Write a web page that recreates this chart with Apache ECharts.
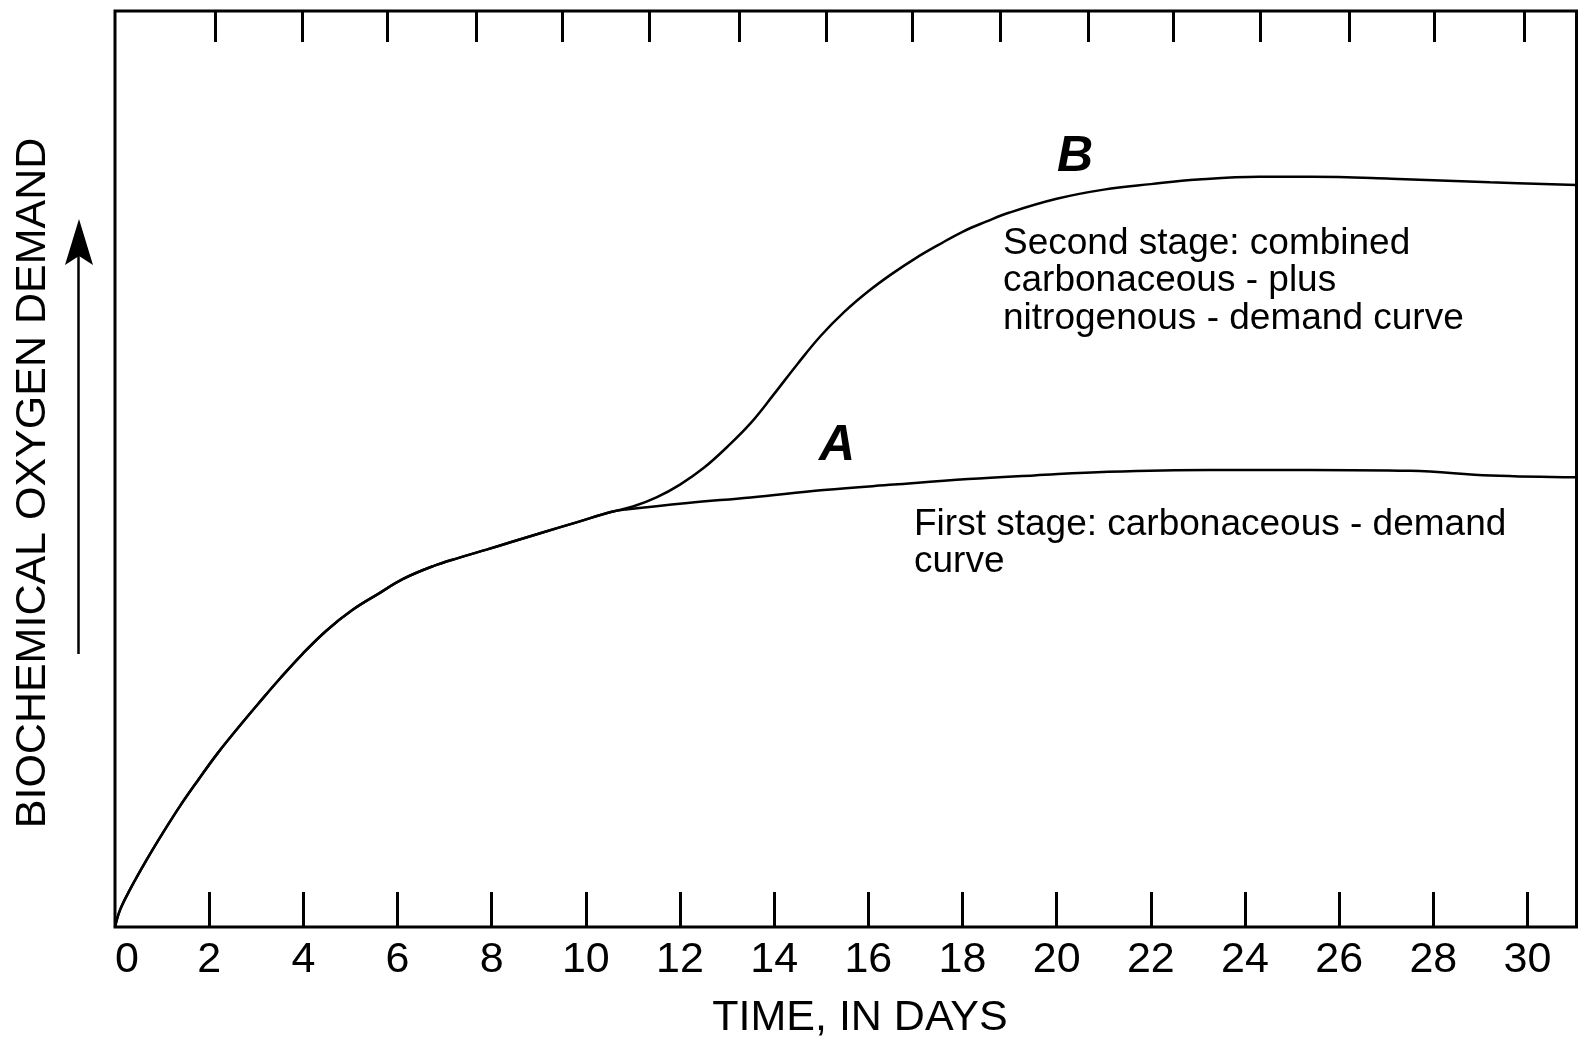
<!DOCTYPE html>
<html>
<head>
<meta charset="utf-8">
<script src="https://cdn.jsdelivr.net/npm/echarts@6/dist/echarts.min.js"></script>
<style>
  html, body { margin: 0; padding: 0; background: #fff; }
  #chart { width: 1578px; height: 1041px; }
</style>
</head>
<body>
<div id="chart"></div>
<script>
// curve A: first stage, carbonaceous demand (day, relative BOD 0-100)
var daysA = [0, 0.11, 0.32, 0.68, 1.02, 1.38, 1.76, 2.17, 2.72, 3.08, 3.5, 3.98, 4.5, 5.04, 5.6, 6.12, 6.76, 7.3, 7.89, 8.40, 9.10, 9.82, 10.53,
  10.89, 12.16, 13.50, 15.05, 16.54, 18.12, 19.52, 21.09, 23.24, 25.37, 27.51, 29.22, 31.04];
var bodA = [0, 1.9, 4.1, 7.4, 10.3, 13.2, 16.0, 18.9, 22.4, 24.6, 27.1, 29.8, 32.4, 34.6, 36.4, 38.0, 39.4, 40.3, 41.2, 42.0, 43.1, 44.2, 45.3,
  45.6, 46.3, 46.9, 47.7, 48.3, 48.9, 49.3, 49.7, 49.9, 49.9, 49.8, 49.3, 49.1];

// curve B: second stage, carbonaceous plus nitrogenous demand
var daysB = [0, 0.11, 0.32, 0.68, 1.02, 1.38, 1.76, 2.17, 2.72, 3.08, 3.5, 3.98, 4.5, 5.04, 5.6, 6.12, 6.76, 7.3, 7.89, 8.40, 9.10, 9.82, 10.53,
  11.0, 11.5, 12.0, 12.5, 13.0, 13.5, 14.0, 14.5, 15.0, 15.5, 16.0, 16.5, 17.0, 17.5, 18.0, 18.5, 19.0, 20.0, 21.0, 22.0, 23.0,
  24.3, 25.4, 27.1, 29.2, 31.04];
var bodB = [0, 1.9, 4.1, 7.4, 10.3, 13.2, 16.0, 18.9, 22.4, 24.6, 27.1, 29.8, 32.4, 34.6, 36.4, 38.0, 39.4, 40.3, 41.2, 42.0, 43.1, 44.2, 45.3,
  45.9, 46.9, 48.3, 50.1, 52.4, 55.0, 58.2, 61.5, 64.6, 67.2, 69.4, 71.3, 73.0, 74.5, 75.9, 77.0, 78.0, 79.5, 80.5, 81.1, 81.6,
  81.9, 81.9, 81.7, 81.3, 81.0];

var bottomLabels = [0, 2, 4, 6, 8, 10, 12, 14, 16, 18, 20, 22, 24, 26, 28, 30];
var bottomTicks = [2, 4, 6, 8, 10, 12, 14, 16, 18, 20, 22, 24, 26, 28, 30];
var topTicks = [2.13, 3.98, 5.78, 7.68, 9.50, 11.35, 13.25, 15.10, 16.93, 18.80, 20.67, 22.48, 24.32, 26.22, 28.02, 29.92];

var font = '"Liberation Sans", Arial, sans-serif';

function pairs(xs, ys) {
  return xs.map(function (x, i) { return [x, ys[i]]; });
}

var chart = echarts.init(document.getElementById('chart'), null, { renderer: 'canvas' });

chart.setOption({
  animation: false,
  backgroundColor: '#fff',
  grid: {
    left: 115,
    right: 1.5,
    top: 11,
    bottom: 114,
    show: true,
    borderColor: '#000',
    borderWidth: 3,
    backgroundColor: 'transparent'
  },
  xAxis: [{
    type: 'value',
    position: 'bottom',
    min: 0,
    max: 31.04,
    axisLine: { show: false },
    splitLine: { show: false },
    axisTick: {
      show: true,
      inside: true,
      length: 35,
      customValues: bottomTicks,
      lineStyle: { color: '#000', width: 3 }
    },
    axisLabel: {
      show: true,
      customValues: bottomLabels,
      margin: 12,
      color: '#000',
      fontSize: 43,
      fontFamily: font,
      alignMinLabel: 'left'
    }
  }, {
    type: 'value',
    position: 'top',
    min: 0,
    max: 31.04,
    axisLine: { show: false },
    splitLine: { show: false },
    axisLabel: { show: false },
    axisTick: {
      show: true,
      inside: true,
      length: 31,
      customValues: topTicks,
      lineStyle: { color: '#000', width: 3 }
    }
  }],
  yAxis: {
    type: 'value',
    min: 0,
    max: 100,
    axisLine: { show: false },
    axisTick: { show: false },
    axisLabel: { show: false },
    splitLine: { show: false }
  },
  series: [{
    name: 'B',
    type: 'line',
    data: pairs(daysB, bodB),
    smooth: 0.4,
    showSymbol: false,
    lineStyle: { color: '#000', width: 2.5 }
  }, {
    name: 'A',
    type: 'line',
    data: pairs(daysA, bodA),
    smooth: 0.4,
    showSymbol: false,
    lineStyle: { color: '#000', width: 2.5 }
  }],
  graphic: [{
    type: 'text',
    x: 33,
    y: 483,
    rotation: Math.PI / 2,
    style: {
      text: 'BIOCHEMICAL OXYGEN DEMAND',
      fill: '#000',
      fontSize: 43,
      fontFamily: font,
      align: 'center',
      verticalAlign: 'middle'
    }
  }, {
    type: 'text',
    x: 860,
    y: 1018,
    style: {
      text: 'TIME, IN DAYS',
      fill: '#000',
      fontSize: 43,
      fontFamily: font,
      align: 'center',
      verticalAlign: 'middle'
    }
  }, {
    type: 'line',
    shape: { x1: 78.5, y1: 654, x2: 78.5, y2: 256 },
    style: { stroke: '#000', lineWidth: 2.5 }
  }, {
    type: 'polygon',
    shape: { points: [[79, 219], [65, 265], [79, 256], [93, 265]] },
    style: { fill: '#000' }
  }, {
    type: 'text',
    x: 1075,
    y: 157,
    style: {
      text: 'B',
      fill: '#000',
      fontSize: 50,
      fontWeight: 'bold',
      fontStyle: 'italic',
      fontFamily: font,
      align: 'center',
      verticalAlign: 'middle'
    }
  }, {
    type: 'text',
    x: 837,
    y: 446,
    style: {
      text: 'A',
      fill: '#000',
      fontSize: 50,
      fontWeight: 'bold',
      fontStyle: 'italic',
      fontFamily: font,
      align: 'center',
      verticalAlign: 'middle'
    }
  }, {
    type: 'text',
    x: 1003,
    y: 225,
    style: {
      text: 'Second stage: combined\ncarbonaceous - plus\nnitrogenous - demand curve',
      fill: '#000',
      fontSize: 37,
      lineHeight: 37.5,
      fontFamily: font,
      align: 'left',
      verticalAlign: 'top'
    }
  }, {
    type: 'text',
    x: 914,
    y: 506,
    style: {
      text: 'First stage: carbonaceous - demand\ncurve',
      fill: '#000',
      fontSize: 37,
      lineHeight: 37.5,
      fontFamily: font,
      align: 'left',
      verticalAlign: 'top'
    }
  }]
});
</script>
</body>
</html>
